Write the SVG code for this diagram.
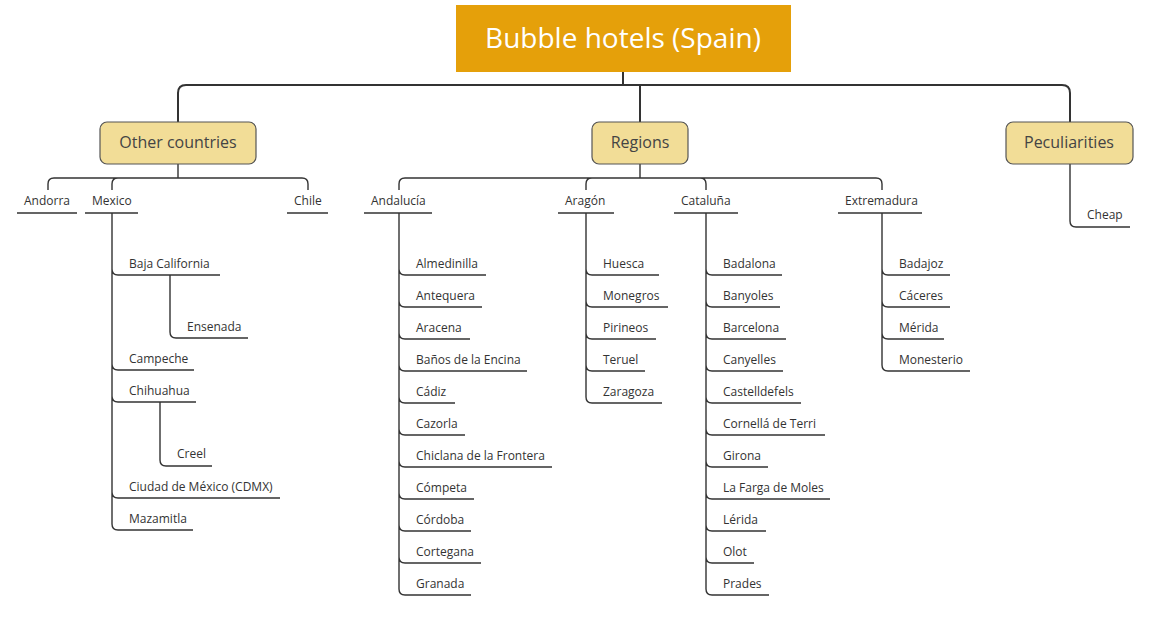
<svg xmlns="http://www.w3.org/2000/svg" width="1173" height="618" viewBox="0 0 1173 618">
<style>
.t{font-family:"Open Sans","Liberation Sans",sans-serif;font-size:12px;fill:#333}
.m{font-family:"Open Sans","Liberation Sans",sans-serif;font-size:16px;fill:#444;text-anchor:middle}
.c{fill:none;stroke:#333;stroke-width:1.4}
.k{fill:none;stroke:#333;stroke-width:2}
.n{fill:#f2dd97;stroke:#555;stroke-width:1.2}
</style>
<rect width="1173" height="618" fill="#fff"/>
<g id="connectors">
<path class="k" d="M623,72V85M178,122V93Q178,85 186,85H1062Q1070,85 1070,93V122M640,85V122"/>
<path class="c" d="M178,164V178M48,190V184Q48,178 54,178H302Q308,178 308,184V190M112,190V184Q112,178 118,178"/>
<path class="c" d="M640,164V178M399,190V184Q399,178 405,178H876Q882,178 882,184V190M586,190V184Q586,178 592,178M706,190V184Q706,178 700,178"/>
<path class="c" d="M1070,164V221Q1070,227 1076,227H1130"/>
<path class="c" d="M17,213H77M85,213H138M287,213H328M364,213H432M558,213H614M674,213H738M838,213H922"/>
<path class="c" d="M112,213V524Q112,530 118,530H193M112,269Q112,275 118,275H220M112,364Q112,370 118,370H194M112,396Q112,402 118,402H196M112,492Q112,498 118,498H280"/>
<path class="c" d="M170,275V332Q170,338 176,338H248M160,402V460Q160,466 166,466H212"/>
<path class="c" d="M399,213V589Q399,595 405,595H471M399,269Q399,275 405,275H486M399,301Q399,307 405,307H482M399,333Q399,339 405,339H470M399,365Q399,371 405,371H527M399,397Q399,403 405,403H455M399,429Q399,435 405,435H465M399,461Q399,467 405,467H552M399,493Q399,499 405,499H474M399,525Q399,531 405,531H471M399,557Q399,563 405,563H481"/>
<path class="c" d="M586,213V397Q586,403 592,403H662M586,269Q586,275 592,275H659M586,301Q586,307 592,307H668M586,333Q586,339 592,339H656M586,365Q586,371 592,371H645"/>
<path class="c" d="M706,213V589Q706,595 712,595H769M706,269Q706,275 712,275H782M706,301Q706,307 712,307H780M706,333Q706,339 712,339H786M706,365Q706,371 712,371H783M706,397Q706,403 712,403H801M706,429Q706,435 712,435H825M706,461Q706,467 712,467H768M706,493Q706,499 712,499H830M706,525Q706,531 712,531H766M706,557Q706,563 712,563H754"/>
<path class="c" d="M882,213V365Q882,371 888,371H970M882,269Q882,275 888,275H950M882,301Q882,307 888,307H950M882,333Q882,339 888,339H944"/>
</g>
<g id="root"><rect x="456" y="5" width="335" height="67" fill="#e5a00a"/><text x="623" y="48" text-anchor="middle" font-family="Open Sans,Liberation Sans,sans-serif" font-size="28" fill="#fff">Bubble hotels (Spain)</text></g>
<g id="other"><rect class="n" x="100" y="122" width="156" height="42" rx="7"/><text class="m" x="178" y="148">Other countries</text></g>
<g id="regions"><rect class="n" x="592" y="122" width="96" height="42" rx="7"/><text class="m" x="640" y="148">Regions</text></g>
<g id="pecul"><rect class="n" x="1006" y="122" width="127" height="42" rx="7"/><text class="m" x="1069" y="148">Peculiarities</text></g>
<g id="leaves">
<text class="t" x="1087" y="219">Cheap</text>
<text class="t" x="24" y="205">Andorra</text><text class="t" x="92" y="205">Mexico</text><text class="t" x="294" y="205">Chile</text>
<text class="t" x="371" y="205">Andalucía</text><text class="t" x="565" y="205">Aragón</text><text class="t" x="681" y="205">Cataluña</text><text class="t" x="845" y="205">Extremadura</text>
<text class="t" x="129" y="268">Baja California</text><text class="t" x="187" y="331">Ensenada</text><text class="t" x="129" y="363">Campeche</text><text class="t" x="129" y="395">Chihuahua</text><text class="t" x="177" y="458">Creel</text><text class="t" x="129" y="491">Ciudad de México (CDMX)</text><text class="t" x="129" y="523">Mazamitla</text>
<text class="t" x="416" y="268">Almedinilla</text><text class="t" x="416" y="300">Antequera</text><text class="t" x="416" y="332">Aracena</text><text class="t" x="416" y="364">Baños de la Encina</text><text class="t" x="416" y="396">Cádiz</text><text class="t" x="416" y="428">Cazorla</text><text class="t" x="416" y="460">Chiclana de la Frontera</text><text class="t" x="416" y="492">Cómpeta</text><text class="t" x="416" y="524">Córdoba</text><text class="t" x="416" y="556">Cortegana</text><text class="t" x="416" y="588">Granada</text>
<text class="t" x="603" y="268">Huesca</text><text class="t" x="603" y="300">Monegros</text><text class="t" x="603" y="332">Pirineos</text><text class="t" x="603" y="364">Teruel</text><text class="t" x="603" y="396">Zaragoza</text>
<text class="t" x="723" y="268">Badalona</text><text class="t" x="723" y="300">Banyoles</text><text class="t" x="723" y="332">Barcelona</text><text class="t" x="723" y="364">Canyelles</text><text class="t" x="723" y="396">Castelldefels</text><text class="t" x="723" y="428">Cornellá de Terri</text><text class="t" x="723" y="460">Girona</text><text class="t" x="723" y="492">La Farga de Moles</text><text class="t" x="723" y="524">Lérida</text><text class="t" x="723" y="556">Olot</text><text class="t" x="723" y="588">Prades</text>
<text class="t" x="899" y="268">Badajoz</text><text class="t" x="899" y="300">Cáceres</text><text class="t" x="899" y="332">Mérida</text><text class="t" x="899" y="364">Monesterio</text>
</g>
</svg>
